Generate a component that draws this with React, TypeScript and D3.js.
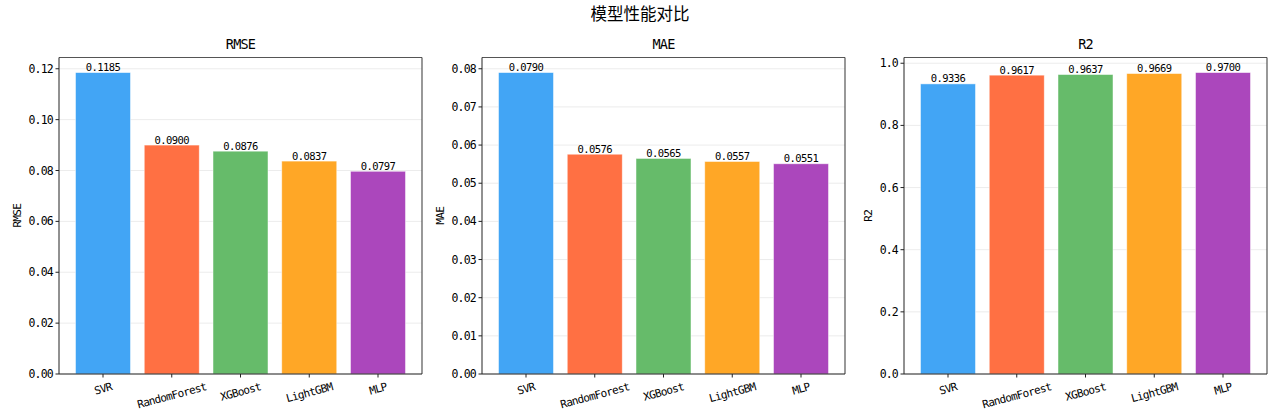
import * as d3 from 'd3';

const models = ['SVR', 'RandomForest', 'XGBoost', 'LightGBM', 'MLP'];
const barColors = ['#42A5F5', '#FF7043', '#66BB6A', '#FFA726', '#AB47BC'];

const rmseValues = [0.1185, 0.09, 0.0876, 0.0837, 0.0797];
const maeValues = [0.079, 0.0576, 0.0565, 0.0557, 0.0551];
const r2Values = [0.9336, 0.9617, 0.9637, 0.9669, 0.97];

const rmseTicks = [0, 0.02, 0.04, 0.06, 0.08, 0.1, 0.12];
const maeTicks = [0, 0.01, 0.02, 0.03, 0.04, 0.05, 0.06, 0.07, 0.08];
const r2Ticks = [0, 0.2, 0.4, 0.6, 0.8, 1.0];

const panels = [
  { name: 'RMSE', values: rmseValues, ticks: rmseTicks, digits: 2, left: 59, labelX: -42 },
  { name: 'MAE', values: maeValues, ticks: maeTicks, digits: 2, left: 482, labelX: -42 },
  { name: 'R2', values: r2Values, ticks: r2Ticks, digits: 1, left: 904, labelX: -36 },
];

const W = 1280;
const H = 415;
const top = 57.5;
const bottom = 374;
const panelW = 363;
const monoFont = '"DejaVu Sans Mono", "Noto Sans CJK SC", monospace';
const sin15 = Math.sin(Math.PI / 12);
const cos15 = Math.cos(Math.PI / 12);

function Panel({ name, values, ticks, digits, left, labelX }: (typeof panels)[number]) {
  const x = d3.scaleLinear().domain([-0.64, 4.64]).range([0, panelW]);
  const y = d3
    .scaleLinear()
    .domain([0, (d3.max(values) as number) * 1.05])
    .range([bottom - top, 0]);
  const innerH = bottom - top;
  const bw = x(0.4) - x(-0.4);

  return (
    <g transform={`translate(${left},${top})`}>
      {ticks.map((t) => (
        <line key={`g${t}`} x1={0} x2={panelW} y1={y(t)} y2={y(t)} stroke="#b0b0b0" strokeOpacity={0.3} strokeWidth={0.8} />
      ))}
      {values.map((v, i) => (
        <rect
          key={models[i]}
          x={x(i) - bw / 2}
          y={y(v)}
          width={bw}
          height={innerH - y(v)}
          fill={barColors[i]}
          stroke="#ffffff"
          strokeOpacity={0.6}
          strokeWidth={0.8}
        />
      ))}
      {values.map((v, i) => (
        <text
          key={`l${i}`}
          x={x(i)}
          y={y(v) - 1.5}
          textAnchor="middle"
          fontFamily={monoFont}
          fontSize={10.5}
          letterSpacing={-0.6}
          fill="#000"
        >
          {v.toFixed(4)}
        </text>
      ))}
      <line x1={0} x2={panelW} y1={0} y2={0} stroke="#555" strokeWidth={1.2} />
      <line x1={panelW} x2={panelW} y1={0} y2={innerH} stroke="#444" strokeWidth={1.1} />
      <line x1={0} x2={0} y1={0} y2={innerH} stroke="#222" strokeWidth={1} />
      <line x1={0} x2={panelW} y1={innerH} y2={innerH} stroke="#222" strokeWidth={1} />
      {ticks.map((t) => (
        <g key={`t${t}`} transform={`translate(0,${y(t)})`}>
          <line x1={-3.5} x2={0} stroke="#222" />
          <text x={-6} dy="0.35em" textAnchor="end" fontFamily={monoFont} fontSize={11.5} letterSpacing={-0.8} fill="#000">
            {t.toFixed(digits)}
          </text>
        </g>
      ))}
      {models.map((m, i) => {
        const w = m.length * 5.9;
        const cy = 7 + (w * sin15 + 11 * cos15) / 2;
        return (
          <g key={`x${m}`} transform={`translate(${x(i)},${innerH})`}>
            <line y1={0} y2={3.5} stroke="#222" />
            <text
              transform={`translate(0,${cy}) rotate(-15)`}
              textAnchor="middle"
              dy="0.35em"
              fontFamily={monoFont}
              fontSize={11}
              letterSpacing={-0.7}
              fill="#000"
            >
              {m}
            </text>
          </g>
        );
      })}
      <text x={panelW / 2} y={-9} textAnchor="middle" fontFamily={monoFont} fontSize={13.5} letterSpacing={-0.8} fill="#000">
        {name}
      </text>
      <text
        transform={`translate(${labelX},${innerH / 2}) rotate(-90)`}
        textAnchor="middle"
        dy="0.35em"
        fontFamily={monoFont}
        fontSize={11}
        letterSpacing={-0.7}
        fill="#000"
      >
        {name}
      </text>
    </g>
  );
}

export default function App() {
  return (
    <svg width={W} height={H} style={{ display: 'block', position: 'absolute', left: 0, top: 0, background: '#fff' }}>
      <rect width={W} height={H} fill="#fff" />
      <text x={640} y={20} textAnchor="middle" fontFamily='"Noto Sans CJK SC", sans-serif' fontSize={16.5} fill="#000">
        模型性能对比
      </text>
      {panels.map((p) => (
        <Panel key={p.name} {...p} />
      ))}
    </svg>
  );
}
